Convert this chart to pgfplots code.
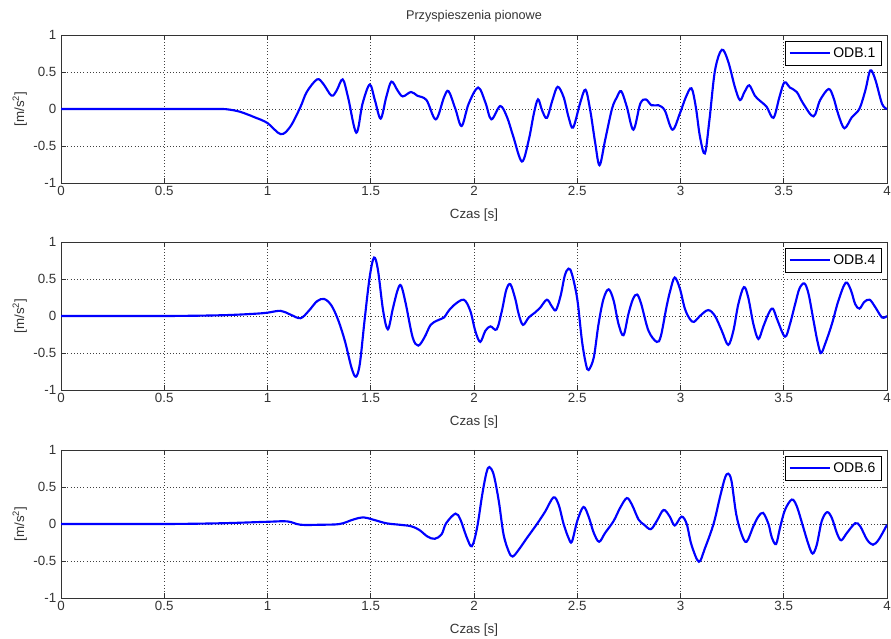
\documentclass[border=0pt]{standalone}
\usepackage{fontspec}
\setmainfont{Liberation Sans}
\usepackage{pgfplots}
\pgfplotsset{compat=1.18}
\pgfplotsset{
 myax/.style={
  scale only axis, width=619.5pt, height=111pt,
  xmin=0,xmax=4,ymin=-1,ymax=1,
  xtick={0,0.5,1,1.5,2,2.5,3,3.5,4}, ytick={-1,-0.5,0,0.5,1},
  grid=major, major grid style={dotted, black!75, line width=0.6pt},
  axis line style={black!80}, tick style={black!80, line width=0.5pt},
  major tick length=4pt,
  tick align=inside,
  /pgf/number format/assume math mode=true,
  ticklabel style={font=\fontsize{10}{11}\selectfont, text=black!80},
  xticklabel style={yshift=1pt},
  label style={font=\fontsize{10}{11}\selectfont, text=black!80},
  xlabel={Czas [s]}, ylabel={[m/s\textsuperscript{2}]},
  xlabel style={yshift=-3pt},
  ylabel style={yshift=-2pt},
  legend style={at={(0.9935,0.959)}, anchor=north east, font=\fontsize{10.5}{11}\selectfont, draw=black, line width=0.5pt, inner sep=2.5pt},
  legend image code/.code={\draw[#1, line width=1.5pt] (0pt,0pt) -- (30pt,0pt);},
 },
 myplot/.style={color={rgb,255:red,0;green,0;blue,255}, line width=1.6pt, smooth, tension=0.55, no marks},
}
\begin{document}
\begin{tikzpicture}
\begin{axis}[myax, at={(45.75pt,341.25pt)}, anchor=south west,
  title={Przyspieszenia pionowe}, title style={font=\fontsize{9.5}{11}\selectfont, text=black!80, yshift=0pt}]
\addplot[myplot] coordinates {
(0,0) (0.5,0) (0.7,0) (0.78,0) (0.82,-0.01) (0.87,-0.04) (0.936,-0.11) (1.0,-0.19) (1.064,-0.34) (1.11,-0.24) (1.16,0.03) (1.19,0.23) (1.24,0.40) (1.27,0.34) (1.31,0.18) (1.335,0.25) (1.364,0.40) (1.39,0.16) (1.43,-0.32) (1.46,0.07) (1.495,0.33) (1.52,0.12) (1.548,-0.13) (1.575,0.16) (1.60,0.37) (1.63,0.25) (1.655,0.17) (1.695,0.23) (1.725,0.18) (1.77,0.12) (1.815,-0.14) (1.855,0.16) (1.877,0.24) (1.91,0.0) (1.94,-0.23) (1.974,0.07) (2.02,0.29) (2.055,0.09) (2.084,-0.14) (2.127,0.04) (2.16,-0.11) (2.19,-0.37) (2.232,-0.71) (2.265,-0.42) (2.29,-0.06) (2.31,0.13) (2.33,-0.02) (2.353,-0.12) (2.38,0.12) (2.405,0.30) (2.434,0.16) (2.458,-0.11) (2.48,-0.25) (2.515,0.09) (2.54,0.26) (2.563,-0.02) (2.587,-0.46) (2.608,-0.76) (2.635,-0.42) (2.668,0.0) (2.692,0.16) (2.713,0.24) (2.74,0.03) (2.772,-0.28) (2.805,0.07) (2.832,0.13) (2.86,0.05) (2.894,0.05) (2.924,-0.02) (2.961,-0.28) (2.997,-0.06) (3.026,0.16) (3.053,0.28) (3.074,0.03) (3.094,-0.37) (3.118,-0.60) (3.14,-0.15) (3.167,0.52) (3.2,0.80) (3.23,0.65) (3.264,0.29) (3.288,0.12) (3.31,0.23) (3.333,0.32) (3.36,0.18) (3.385,0.11) (3.417,0.03) (3.45,-0.12) (3.479,0.16) (3.503,0.36) (3.53,0.29) (3.563,0.23) (3.595,0.07) (3.644,-0.10) (3.676,0.12) (3.717,0.27) (3.74,0.16) (3.765,-0.08) (3.794,-0.26) (3.83,-0.11) (3.866,0.0) (3.895,0.25) (3.919,0.52) (3.943,0.40) (3.976,0.07) (4.0,0.0)
};
\addlegendentry{ODB.1}
\end{axis}
\begin{axis}[myax, at={(45.75pt,186pt)}, anchor=south west]
\addplot[myplot] coordinates {
(0,0) (0.5,0) (0.776,0.01) (0.936,0.03) (1.0,0.045) (1.064,0.07) (1.11,0.02) (1.16,-0.03) (1.2,0.07) (1.24,0.20) (1.275,0.23) (1.31,0.14) (1.343,-0.06) (1.375,-0.34) (1.407,-0.70) (1.428,-0.82) (1.447,-0.65) (1.47,-0.06) (1.495,0.53) (1.516,0.79) (1.535,0.62) (1.56,0.07) (1.583,-0.18) (1.607,0.10) (1.63,0.35) (1.647,0.41) (1.67,0.16) (1.703,-0.29) (1.73,-0.40) (1.76,-0.29) (1.79,-0.12) (1.823,-0.06) (1.855,-0.02) (1.872,0.05) (1.90,0.14) (1.95,0.22) (1.982,0.07) (2.006,-0.20) (2.03,-0.35) (2.055,-0.20) (2.08,-0.14) (2.11,-0.18) (2.135,0.07) (2.156,0.35) (2.176,0.43) (2.2,0.23) (2.216,0.03) (2.237,-0.12) (2.265,-0.02) (2.297,0.05) (2.32,0.11) (2.353,0.22) (2.377,0.13) (2.397,0.08) (2.42,0.28) (2.44,0.55) (2.458,0.64) (2.474,0.57) (2.5,0.23) (2.523,-0.34) (2.542,-0.65) (2.555,-0.73) (2.58,-0.56) (2.603,-0.11) (2.627,0.23) (2.652,0.36) (2.676,0.21) (2.7,-0.11) (2.724,-0.26) (2.748,0.03) (2.77,0.23) (2.79,0.29) (2.81,0.16) (2.845,-0.20) (2.885,-0.35) (2.905,-0.27) (2.932,0.12) (2.951,0.35) (2.972,0.52) (2.997,0.37) (3.021,0.10) (3.045,-0.04) (3.065,-0.08) (3.094,0.0) (3.134,0.08) (3.167,0.0) (3.2,-0.20) (3.231,-0.39) (3.256,-0.20) (3.28,0.16) (3.307,0.39) (3.328,0.25) (3.353,-0.11) (3.377,-0.31) (3.4,-0.15) (3.426,0.03) (3.447,0.10) (3.47,-0.06) (3.506,-0.28) (3.53,-0.11) (3.555,0.16) (3.576,0.37) (3.6,0.44) (3.62,0.30) (3.644,-0.06) (3.663,-0.34) (3.68,-0.50) (3.7,-0.38) (3.733,-0.11) (3.765,0.21) (3.8,0.45) (3.825,0.35) (3.846,0.16) (3.867,0.10) (3.89,0.19) (3.916,0.22) (3.943,0.12) (3.976,-0.02) (4.0,0.0)
};
\addlegendentry{ODB.4}
\end{axis}
\begin{axis}[myax, at={(45.75pt,30pt)}, anchor=south west]
\addplot[myplot] coordinates {
(0,0) (0.5,0) (0.776,0.01) (1.0,0.03) (1.096,0.035) (1.16,-0.01) (1.256,-0.01) (1.35,0.0) (1.415,0.06) (1.463,0.09) (1.51,0.06) (1.575,0.01) (1.639,-0.01) (1.695,-0.03) (1.735,-0.08) (1.775,-0.17) (1.81,-0.20) (1.843,-0.14) (1.865,0.01) (1.91,0.14) (1.934,0.06) (1.966,-0.19) (1.99,-0.30) (2.015,-0.05) (2.04,0.40) (2.06,0.69) (2.074,0.77) (2.095,0.67) (2.12,0.31) (2.143,-0.14) (2.168,-0.37) (2.187,-0.44) (2.216,-0.35) (2.256,-0.19) (2.305,0.0) (2.345,0.17) (2.385,0.36) (2.41,0.26) (2.434,0.0) (2.458,-0.19) (2.474,-0.24) (2.5,0.04) (2.53,0.23) (2.555,0.10) (2.58,-0.12) (2.606,-0.24) (2.635,-0.12) (2.676,0.04) (2.708,0.22) (2.74,0.35) (2.765,0.26) (2.797,0.06) (2.824,-0.01) (2.856,-0.07) (2.885,0.04) (2.918,0.19) (2.948,0.10) (2.972,-0.02) (3.005,0.10) (3.03,0.0) (3.053,-0.28) (3.089,-0.51) (3.118,-0.33) (3.16,0.0) (3.19,0.35) (3.215,0.62) (3.231,0.68) (3.247,0.58) (3.27,0.13) (3.296,-0.14) (3.32,-0.24) (3.353,-0.03) (3.377,0.10) (3.4,0.15) (3.426,0.0) (3.442,-0.18) (3.463,-0.27) (3.482,-0.05) (3.506,0.19) (3.539,0.33) (3.563,0.24) (3.595,-0.05) (3.62,-0.28) (3.64,-0.40) (3.66,-0.28) (3.684,0.04) (3.71,0.16) (3.733,0.08) (3.757,-0.12) (3.778,-0.22) (3.806,-0.12) (3.846,0.01) (3.87,-0.03) (3.903,-0.21) (3.932,-0.28) (3.96,-0.21) (4.0,-0.01)
};
\addlegendentry{ODB.6}
\end{axis}
\pgfresetboundingbox
\path[use as bounding box] (0,0) rectangle (668.25pt,478.5pt);
\end{tikzpicture}
\end{document}
